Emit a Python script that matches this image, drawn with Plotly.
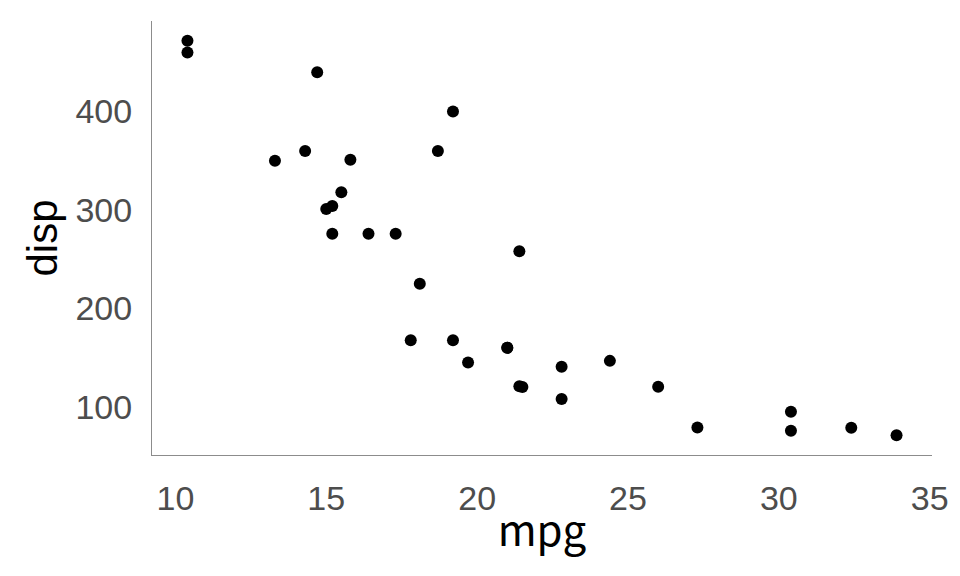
import plotly.graph_objects as go

mpg = [21.0, 21.0, 22.8, 21.4, 18.7, 18.1, 14.3, 24.4, 22.8, 19.2, 17.8, 16.4, 17.3, 15.2,
       10.4, 10.4, 14.7, 32.4, 30.4, 33.9, 21.5, 15.5, 15.2, 13.3, 19.2, 27.3, 26.0, 30.4,
       15.8, 19.7, 15.0, 21.4]
disp = [160, 160, 108, 258, 360, 225, 360, 146.7, 140.8, 167.6, 167.6, 275.8, 275.8, 275.8,
        472, 460, 440, 78.7, 75.7, 71.1, 120.1, 318, 304, 350, 400, 79, 120.3, 95.1,
        351, 145, 301, 121]
x_ticks = [10, 15, 20, 25, 30, 35]
y_ticks = [100, 200, 300, 400]

fig = go.Figure(go.Scatter(
    x=mpg, y=disp, mode="markers",
    marker=dict(color="black", size=12, line=dict(width=0)),
    cliponaxis=False,
))

xmin, xmax = min(mpg), max(mpg)
ymin, ymax = min(disp), max(disp)
xe = (xmax - xmin) * 0.05
ye = (ymax - ymin) * 0.05

fig.update_layout(
    width=952, height=560,
    margin=dict(l=144, r=28, t=13, b=113),
    plot_bgcolor="white", paper_bgcolor="white",
    showlegend=False,
    xaxis=dict(
        range=[xmin - xe, xmax + xe], tickvals=x_ticks,
        showgrid=False, zeroline=False, automargin=False,
        showline=True, linecolor="#8c8c8c", linewidth=1,
        ticks="", ticklabelstandoff=13,
        tickfont=dict(family="Liberation Sans", size=34, color="#4d4d4d"),
        title=dict(text="mpg", font=dict(family="Noto Sans CJK JP", size=42, color="black"), standoff=0),
    ),
    yaxis=dict(
        range=[ymin - ye, ymax + ye], tickvals=y_ticks,
        showgrid=False, zeroline=False, automargin=False,
        showline=True, linecolor="#8c8c8c", linewidth=1,
        ticks="", ticklabelstandoff=12,
        tickfont=dict(family="Liberation Sans", size=34, color="#4d4d4d"),
        title=dict(text="disp", font=dict(family="Liberation Sans", size=42, color="black"), standoff=4),
    ),
)

fig.write_html("out.html")
